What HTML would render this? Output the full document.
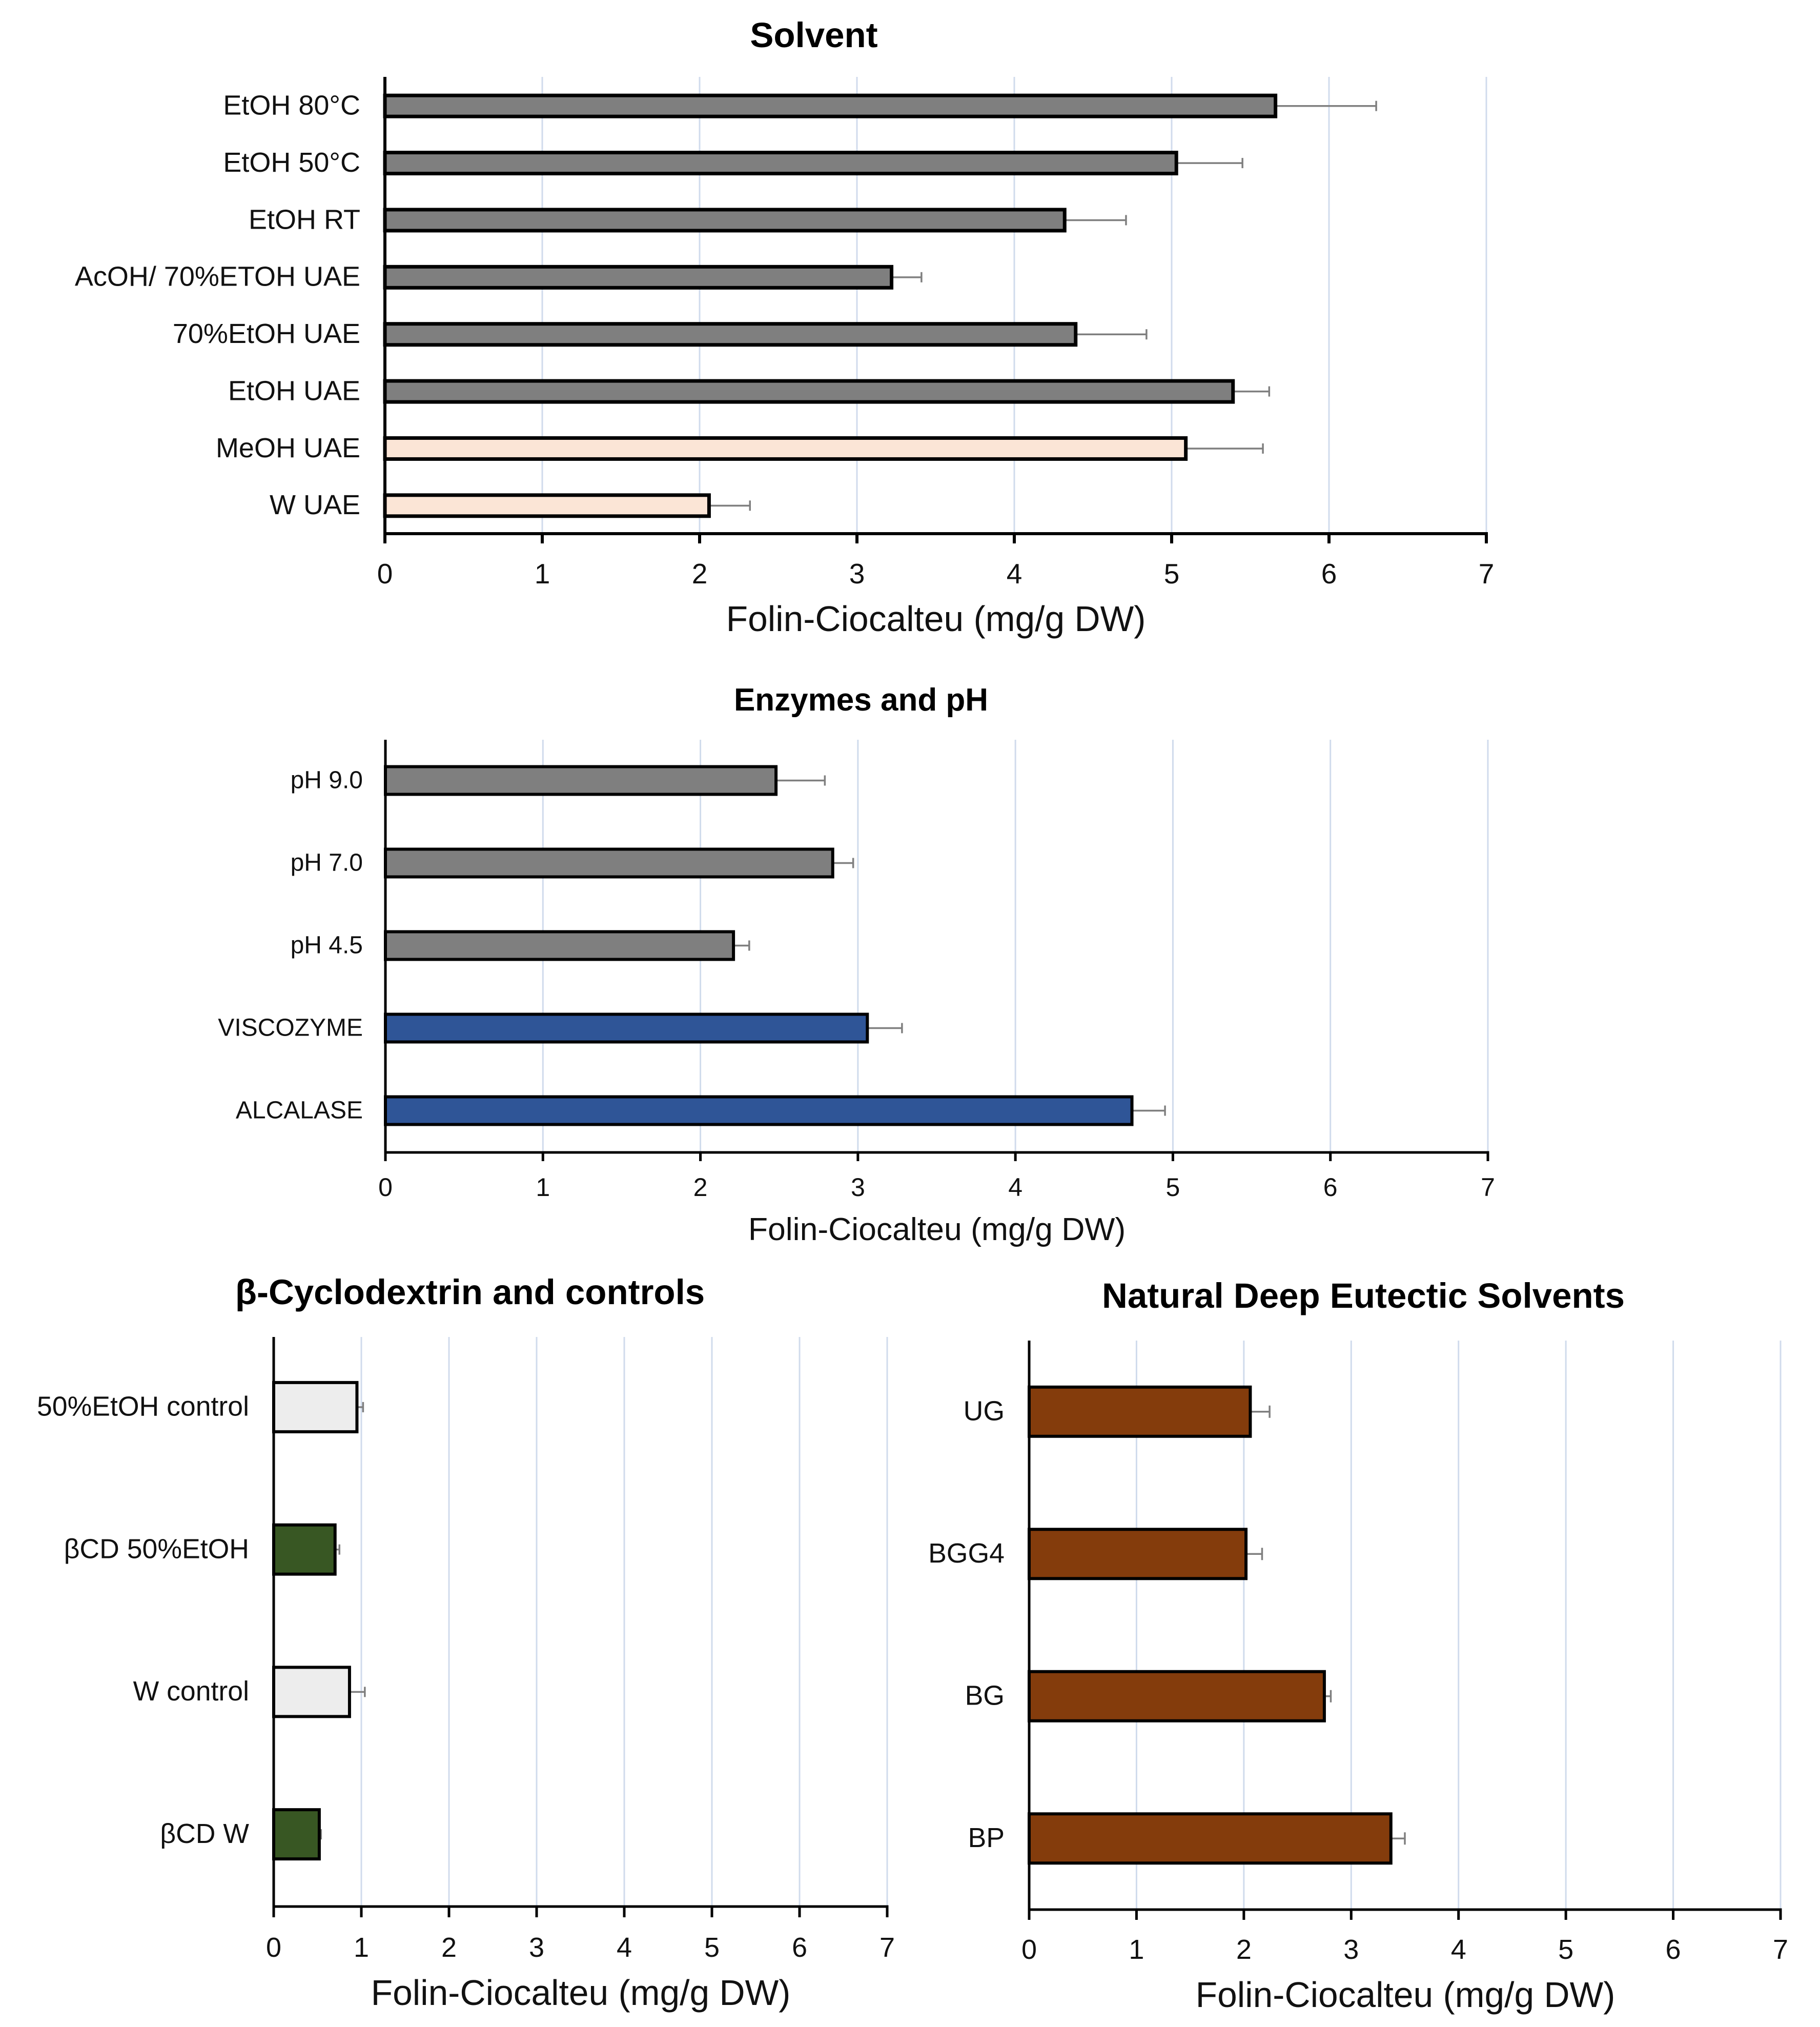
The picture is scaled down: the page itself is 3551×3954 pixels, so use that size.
<!DOCTYPE html>
<html lang="en">
<head>
<meta charset="utf-8">
<title>Folin-Ciocalteu bar charts</title>
<style>
html,body{margin:0;padding:0;background:#fff;}
#figure{display:block;width:3551px;height:3954px;font-family:"Liberation Sans","Noto Sans CJK SC",sans-serif;}
</style>
</head>
<body>
<svg id="figure" xmlns="http://www.w3.org/2000/svg" width="3551" height="3954" viewBox="0 0 3551 3954"></svg>
<script>
const xTickLabels = [0, 1, 2, 3, 4, 5, 6, 7];
const xAxisTitle = 'Folin-Ciocalteu (mg/g DW)';

const solventCategories = ['EtOH 80°C', 'EtOH 50°C', 'EtOH RT', 'AcOH/ 70%ETOH UAE', '70%EtOH UAE', 'EtOH UAE', 'MeOH UAE', 'W UAE'];
const solventValues = [5.66, 5.03, 4.32, 3.22, 4.39, 5.39, 5.09, 2.06];
const solventErrors = [0.64, 0.42, 0.39, 0.19, 0.45, 0.23, 0.49, 0.26];
const solventGroups = ['grey', 'grey', 'grey', 'grey', 'grey', 'grey', 'peach', 'peach'];

const enzymeCategories = ['pH 9.0', 'pH 7.0', 'pH 4.5', 'VISCOZYME', 'ALCALASE'];
const enzymeValues = [2.48, 2.84, 2.21, 3.06, 4.74];
const enzymeErrors = [0.31, 0.13, 0.10, 0.22, 0.21];
const enzymeGroups = ['grey', 'grey', 'grey', 'blue', 'blue'];

const cyclodextrinCategories = ['50%EtOH control', 'βCD 50%EtOH', 'W control', 'βCD W'];
const cyclodextrinValues = [0.95, 0.70, 0.865, 0.52];
const cyclodextrinErrors = [0.07, 0.05, 0.175, 0.02];
const cyclodextrinGroups = ['light', 'green', 'light', 'green'];

const desCategories = ['UG', 'BGG4', 'BG', 'BP'];
const desValues = [2.06, 2.02, 2.75, 3.37];
const desErrors = [0.18, 0.15, 0.06, 0.13];
const desGroups = ['brown', 'brown', 'brown', 'brown'];

const palette = {grey: '#7f7f7f', peach: '#fbe5d6', blue: '#2f5597', light: '#ededed', green: '#385723', brown: '#843c0c'};
const NS = 'http://www.w3.org/2000/svg';
const root = document.getElementById('figure');

function make(tag, attrs, parent, text) {
  const el = document.createElementNS(NS, tag);
  for (const k in attrs) el.setAttribute(k, attrs[k]);
  if (text !== undefined) el.textContent = text;
  parent.appendChild(el);
  return el;
}

function drawPanel(cfg, categories, values, errors, groups) {
  const g = make('g', {}, root);
  
  

  const xScale = v => cfg.x0 + (v / 7) * (cfg.x7 - cfg.x0);
  const band = (cfg.yBottom - cfg.yTop) / categories.length;
  const yCenter = i => cfg.yTop + cfg.yShift + band * (i + 0.5);

  const title = make('text', {x: cfg.titleX, y: cfg.titleY, 'text-anchor': 'middle', 'font-size': cfg.titleSize, 'font-weight': 'bold', fill: '#000'}, g, cfg.title);
  
  

  xTickLabels.forEach(t => {
    if (t === 0) return;
    const grid = make('line', {x1: xScale(t), x2: xScale(t), y1: cfg.yTop, y2: cfg.yBottom, stroke: '#d0dbec', 'stroke-width': 3}, g);
    
    
  });

  categories.forEach((c, i) => {
    const cy = yCenter(i);
    const label = make('text', {x: cfg.labelX, y: cy + cfg.labelSize * 0.34 - 1.5, 'text-anchor': 'end', 'font-size': cfg.labelSize, fill: '#111'}, g, c);
    
    

    const end = xScale(values[i]);
    const errEnd = xScale(values[i] + errors[i]);
    const errLine = make('line', {x1: end, x2: errEnd, y1: cy, y2: cy, stroke: '#7f7f7f', 'stroke-width': 3.5}, g);
    
    
    const errCap = make('line', {x1: errEnd, x2: errEnd, y1: cy - cfg.capHalf, y2: cy + cfg.capHalf, stroke: '#7f7f7f', 'stroke-width': 3.5}, g);
    
    

    const bar = make('rect', {
      x: cfg.x0,
      y: cy - cfg.barHeight / 2 + cfg.barStroke / 2,
      width: Math.max(0, end - cfg.x0),
      height: cfg.barHeight - cfg.barStroke,
      fill: palette[groups[i]],
      stroke: '#000',
      'stroke-width': cfg.barStroke
    }, g);
    
    
  });

  const yAxis = make('line', {x1: cfg.x0, x2: cfg.x0, y1: cfg.yTop, y2: cfg.tickEnd, stroke: '#000', 'stroke-width': cfg.axisStroke}, g);
  
  
  const xAxis = make('line', {x1: cfg.x0, x2: cfg.x7 + cfg.axisStroke / 2, y1: cfg.yBottom, y2: cfg.yBottom, stroke: '#000', 'stroke-width': cfg.axisStroke}, g);
  
  

  xTickLabels.forEach(t => {
    const tick = make('line', {x1: xScale(t), x2: xScale(t), y1: cfg.yBottom, y2: cfg.tickEnd, stroke: '#000', 'stroke-width': cfg.axisStroke}, g);
    
    
    const tl = make('text', {x: xScale(t), y: cfg.tickLabelY, 'text-anchor': 'middle', 'font-size': cfg.tickSize, fill: '#111'}, g, String(t));
    
    
  });

  const xt = make('text', {x: cfg.xTitleX, y: cfg.xTitleY, 'text-anchor': 'middle', 'font-size': cfg.xTitleSize, fill: '#111'}, g, xAxisTitle);
  
  
}

drawPanel({name: 'solvent', title: 'Solvent', titleX: 1588, titleY: 92, titleSize: 69,
  x0: 751, x7: 2900, yTop: 150, yBottom: 1041, yShift: 1, tickEnd: 1060,
  barHeight: 48, barStroke: 7, capHalf: 10, axisStroke: 6,
  labelX: 703, labelSize: 54, tickLabelY: 1138, tickSize: 55,
  xTitleX: 1826, xTitleY: 1231, xTitleSize: 69.5
}, solventCategories, solventValues, solventErrors, solventGroups);

drawPanel({name: 'enzymes-and-ph', title: 'Enzymes and pH', titleX: 1680, titleY: 1386, titleSize: 62,
  x0: 752, x7: 2903, yTop: 1443, yBottom: 2248, yShift: -1, tickEnd: 2265,
  barHeight: 60, barStroke: 6, capHalf: 10, axisStroke: 5,
  labelX: 708, labelSize: 48, tickLabelY: 2333, tickSize: 50,
  xTitleX: 1828, xTitleY: 2419, xTitleSize: 62.5
}, enzymeCategories, enzymeValues, enzymeErrors, enzymeGroups);

drawPanel({name: 'cyclodextrin-and-controls', title: 'β-Cyclodextrin and controls', titleX: 917, titleY: 2544, titleSize: 69,
  x0: 534, x7: 1731, yTop: 2608, yBottom: 3719, yShift: -2, tickEnd: 3740,
  barHeight: 102, barStroke: 6, capHalf: 10, axisStroke: 5,
  labelX: 486, labelSize: 53.6, tickLabelY: 3817, tickSize: 54,
  xTitleX: 1133, xTitleY: 3911, xTitleSize: 69.5
}, cyclodextrinCategories, cyclodextrinValues, cyclodextrinErrors, cyclodextrinGroups);

drawPanel({name: 'natural-deep-eutectic-solvents', title: 'Natural Deep Eutectic Solvents', titleX: 2660, titleY: 2551, titleSize: 69,
  x0: 2008, x7: 3474, yTop: 2615, yBottom: 3725, yShift: 0, tickEnd: 3745,
  barHeight: 102, barStroke: 6, capHalf: 12, axisStroke: 5,
  labelX: 1960, labelSize: 53.6, tickLabelY: 3821, tickSize: 54,
  xTitleX: 2742, xTitleY: 3915, xTitleSize: 69.5
}, desCategories, desValues, desErrors, desGroups);
</script>
</body>
</html>
